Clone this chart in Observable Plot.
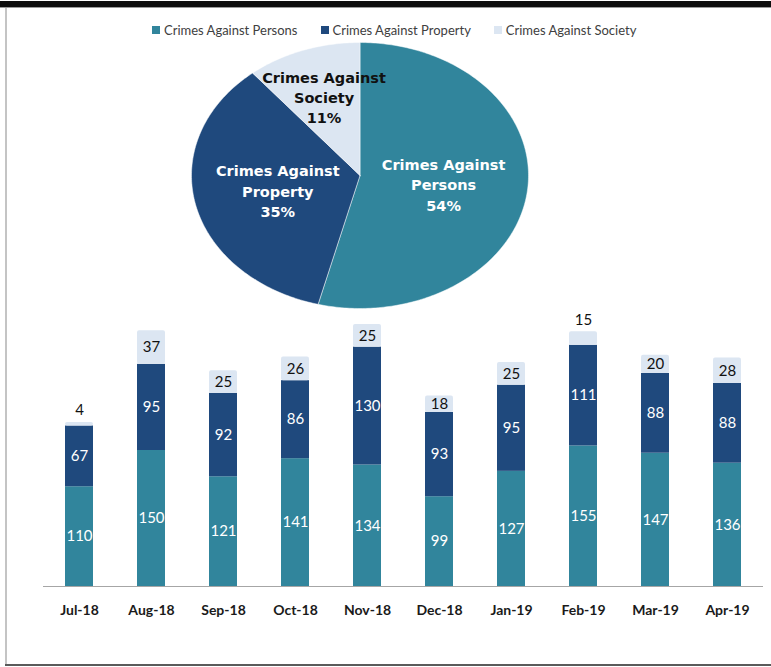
<!DOCTYPE html>
<html>
<head>
<meta charset="utf-8">
<script src="https://cdn.jsdelivr.net/npm/d3@7"></script>
<script src="https://cdn.jsdelivr.net/npm/@observablehq/plot@0.6"></script>
<style>
  html, body { margin: 0; padding: 0; background: #fff; }
  #frame { position: relative; width: 771px; height: 667px; overflow: hidden; background: #fff; font-family: Lato, "Open Sans", sans-serif; }
  #topbar { position: absolute; left: 0; right: 0; top: 1px; height: 6px; background: #0d0d0d; border-bottom: 1px solid #9a9a9a; }
  #leftline { position: absolute; left: 5px; top: 8px; width: 1.5px; height: 657px; background: #c4c4c4; }
  #bottomline { position: absolute; left: 5px; right: 0; top: 664px; height: 2px; background: #5a5a5a; }
  #legend { position: absolute; left: 152px; top: 22px; display: flex; gap: 23px; font-size: 13px; color: #404040; }
  #legend .item { display: flex; align-items: center; gap: 4px; }
  #legend .sw { width: 8px; height: 8px; display: inline-block; }
  #pie { position: absolute; left: 0; top: 40px; }
  #bars { position: absolute; left: 0; top: 310px; }
</style>
</head>
<body>
<div id="frame">
  <div id="topbar"></div>
  <div id="leftline"></div>
  <div id="bottomline"></div>
  <div id="legend"></div>
  <div id="pie"></div>
  <div id="bars"></div>
</div>
<script>
// ---------- data ----------
const months = ["Jul-18", "Aug-18", "Sep-18", "Oct-18", "Nov-18", "Dec-18", "Jan-19", "Feb-19", "Mar-19", "Apr-19"];
const persons = [110, 150, 121, 141, 134, 99, 127, 155, 147, 136];
const property = [67, 95, 92, 86, 130, 93, 95, 111, 88, 88];
const society = [4, 37, 25, 26, 25, 18, 25, 15, 20, 28];
const seriesNames = ["Crimes Against Persons", "Crimes Against Property", "Crimes Against Society"];
const seriesColors = ["#31859c", "#1f497d", "#dce6f2"];
const piePercent = [54, 35, 11];
const pieLabelNames = ["Crimes Against\nPersons", "Crimes Against\nProperty", "Crimes Against\nSociety"];

// ---------- legend ----------
const legend = document.getElementById("legend");
seriesNames.forEach((name, i) => {
  const item = document.createElement("div");
  item.className = "item";
  const sw = document.createElement("span");
  sw.className = "sw";
  sw.style.background = seriesColors[i];
  const tx = document.createElement("span");
  tx.textContent = name;
  item.appendChild(sw);
  item.appendChild(tx);
  legend.appendChild(item);
});

const colorScale = {domain: seriesNames, range: seriesColors};

// ---------- pie (elliptical) ----------
const pieRows = [];
const pieLabels = [];
let acc = 0;
piePercent.forEach((p, i) => {
  const a0 = acc / 100 * 2 * Math.PI;
  const a1 = (acc + p) / 100 * 2 * Math.PI;
  const n = Math.max(4, Math.ceil(p * 4));
  pieRows.push({x: 0, y: 0, series: seriesNames[i]});
  for (let k = 0; k <= n; k++) {
    const t = a0 + (a1 - a0) * k / n;
    pieRows.push({x: Math.sin(t), y: Math.cos(t), series: seriesNames[i]});
  }
  pieRows.push({x: 0, y: 0, series: seriesNames[i]});
  const mid = (a0 + a1) / 2;
  const r = p < 20 ? 0.63 : 0.5;
  pieLabels.push({x: r * Math.sin(mid), y: r * Math.cos(mid), text: `${pieLabelNames[i]}\n${p}%`, small: p < 20});
  acc += p;
});

const pie = Plot.plot({
  width: 771,
  height: 272,
  margin: 0,
  x: {domain: [-1, 1], range: [191, 528], axis: null},
  y: {domain: [-1, 1], range: [268, 2], axis: null},
  color: colorScale,
  style: {background: "transparent", overflow: "visible"},
  marks: [
    Plot.line(pieRows, {x: "x", y: "y", z: "series", fill: "series", stroke: "#ffffff", strokeWidth: 0.8, strokeOpacity: 0.6, curve: "linear"}),
    Plot.text(pieLabels.filter(d => !d.small), {x: "x", y: "y", text: "text", fill: "#ffffff", fontSize: 14.5, fontWeight: "bold", fontFamily: "DejaVu Sans", lineHeight: 1.4}),
    Plot.text(pieLabels.filter(d => d.small), {x: "x", y: "y", text: "text", fill: "#111111", fontSize: 14.5, fontWeight: "bold", fontFamily: "DejaVu Sans", lineHeight: 1.4})
  ]
});
document.getElementById("pie").appendChild(pie);

// ---------- stacked bars ----------
const seriesValues = [persons, property, society];
const rows = [];
months.forEach((m, i) => {
  let lo = 0;
  seriesValues.forEach((vals, s) => {
    const v = vals[i];
    rows.push({month: m, series: seriesNames[s], s, value: v, lo, hi: lo + v, mid: lo + v / 2});
    lo += v;
  });
});

const labelFont = {fontSize: 15, fontWeight: "normal", fontFamily: "Lato, sans-serif"};
const bars = Plot.plot({
  width: 771,
  height: 340,
  marginTop: 4,
  marginBottom: 64,
  marginLeft: 43,
  marginRight: 8,
  x: {domain: months, paddingInner: 0.61, paddingOuter: 0.305, label: null, tickSize: 0, tickPadding: 19},
  y: {domain: [0, 300], axis: null},
  color: colorScale,
  style: {background: "transparent", fontFamily: "Lato, sans-serif", fontSize: "14px", fontWeight: "bold", color: "#1a1a1a", overflow: "visible"},
  marks: [
    Plot.barY(rows.filter(d => d.s < 2), {x: "month", y1: "lo", y2: "hi", fill: "series"}),
    Plot.barY(rows.filter(d => d.s === 2), {x: "month", y1: "lo", y2: "hi", fill: "series", rx: 2}),
    Plot.ruleY([0], {stroke: "#a6a6a6", strokeWidth: 1.2}),
    Plot.text(rows.filter(d => d.s < 2), {x: "month", y: "mid", text: "value", fill: "#ffffff", ...labelFont}),
    Plot.text(rows.filter(d => d.s === 2 && d.value >= 16), {x: "month", y: "mid", text: "value", fill: "#111111", ...labelFont}),
    Plot.text(rows.filter(d => d.s === 2 && d.value < 16), {x: "month", y: "hi", text: "value", fill: "#111111", ...labelFont, dy: -12})
  ]
});
document.getElementById("bars").appendChild(bars);
</script>
</body>
</html>
